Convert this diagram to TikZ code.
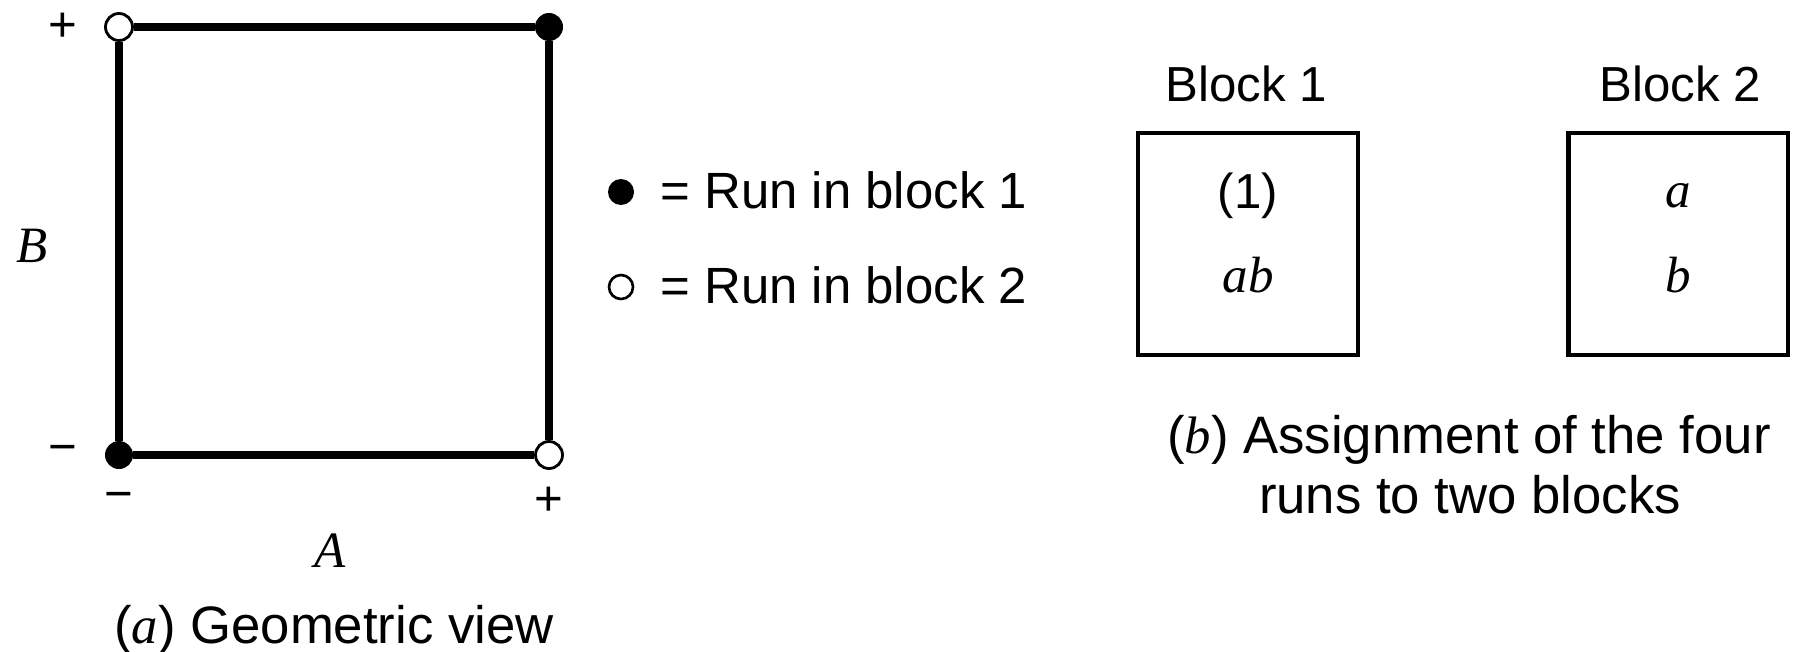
\documentclass[tikz,border=0pt]{standalone}
\usepackage{fontspec}
\setmainfont{Liberation Sans}
\newfontfamily\tms{Liberation Serif}
\begin{document}
\begin{tikzpicture}[x=0.02cm,y=-0.02cm,
  every node/.style={font=\fontsize{28}{34}\selectfont, inner sep=0pt},
  sqline/.style={line width=4pt},
  opendot/.style={circle, draw, line width=1.6pt, fill=white, minimum size=0.54cm},
  filldot/.style={circle, fill=black, minimum size=0.56cm},
  legopen/.style={circle, draw, line width=1.5pt, minimum size=0.48cm},
  legfill/.style={circle, fill=black, minimum size=0.52cm},
  blockbox/.style={draw, line width=2.8pt, minimum width=4.4cm, minimum height=4.44cm},
  lbl/.style={anchor=base},
  bigtxt/.style={anchor=base, font=\fontsize{30}{36}\selectfont},
  legtxt/.style={anchor=base west, font=\fontsize{29}{35}\selectfont},
  mth/.style={anchor=base, font=\fontsize{29}{34}\selectfont\tms\itshape}]
\useasboundingbox (0,0) rectangle (1794,652);
% (a) geometric view
\node[opendot] (tl) at (119,27) {};
\node[filldot] (tr) at (549,27) {};
\node[filldot] (bl) at (119,455) {};
\node[opendot] (br) at (549,455) {};
\draw[sqline] (tl) -- (tr);
\draw[sqline] (tr) -- (br);
\draw[sqline] (br) -- (bl);
\draw[sqline] (bl) -- (tl);
\node (plusl) at (63,27) {+};
\node (minusl) at (63,454) {−};
\node (minusb) at (119,501) {−};
\node (plusb) at (549,501) {+};
\node[mth] (labB) at (32,262) {B};
\node[mth] (labA) at (330,567) {A};
\node[bigtxt] (capa) at (334,643) {({\tms\itshape a}) Geometric view};
% legend
\node[legfill] (leg1) at (621,192) {};
\node[legopen] (leg2) at (621,287) {};
\node[legtxt] (leg1t) at (660,208) {= Run in block 1};
\node[legtxt] (leg2t) at (660,303) {= Run in block 2};
% (b) blocks
\node[blockbox] (blk1) at (1248,244) {};
\node[blockbox] (blk2) at (1678,244) {};
\node[lbl] (blk1t) at (1246,102) {Block 1};
\node[lbl] (blk2t) at (1680,102) {Block 2};
\node[lbl] (r1) at (1248,208) {(1)};
\node[mth] (r2) at (1248,292) {ab};
\node[mth] (r3) at (1678,207) {a};
\node[mth] (r4) at (1678,292) {b};
\node[bigtxt] (capb1) at (1469,453) {({\tms\itshape b}) Assignment of the four};
\node[bigtxt] (capb2) at (1470,513) {runs to two blocks};
\end{tikzpicture}
\end{document}
